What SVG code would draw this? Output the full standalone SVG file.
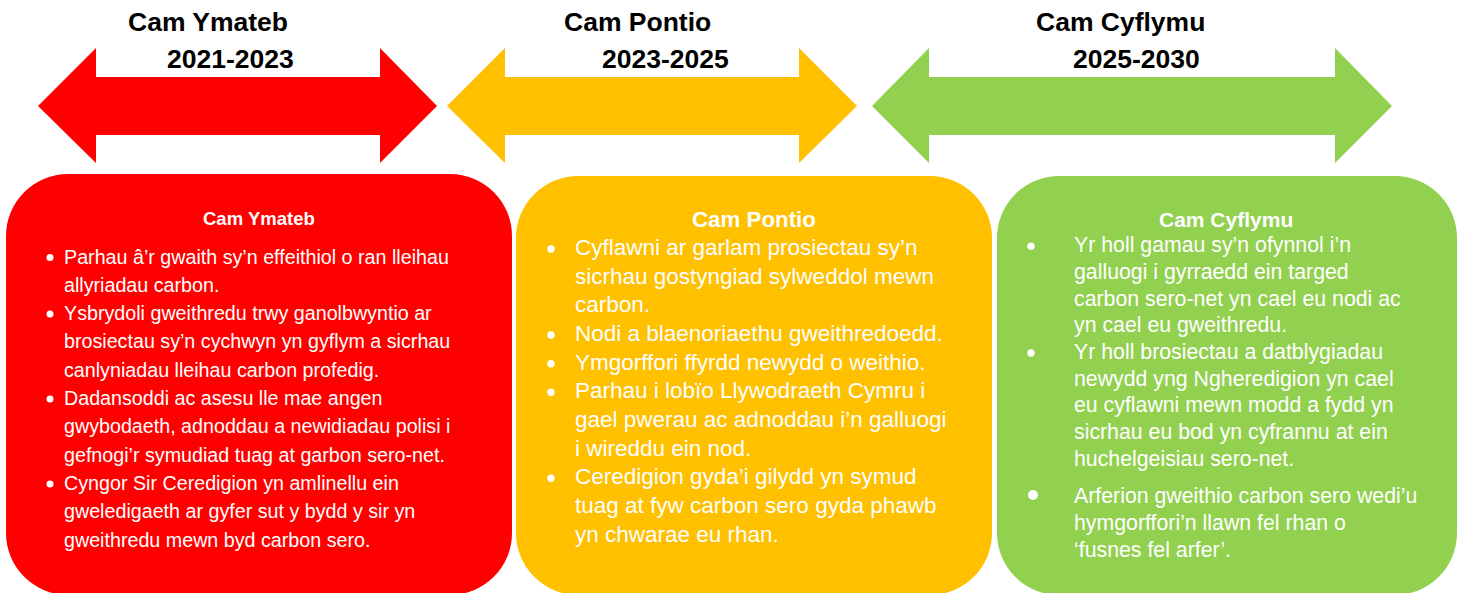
<svg xmlns="http://www.w3.org/2000/svg" width="1464" height="593" viewBox="0 0 1464 593">
<style>
.hd{font-family:"Liberation Sans",Arial,sans-serif;font-weight:bold;font-size:26.5px;fill:#000}
.red{fill:#FF0000}
.yel{fill:#FFC000}
.grn{fill:#92D050}
.tx{font-family:"Liberation Sans",Arial,sans-serif;fill:#fff}
.t1{font-size:19.7px}
.t2{font-size:22.5px}
.t3{font-size:21.3px}
.bt{font-family:"Liberation Sans",Arial,sans-serif;font-weight:bold;fill:#fff}
.dot{fill:#fff}
</style>
<rect width="1464" height="593" fill="#fff"/>
<g id="arrow-ymateb">
<polygon class="red" points="38,106 96,48 96,77 380,77 380,48 437,106 380,163 380,135 96,135 96,163"/>
<text class="hd" x="128" y="30.5">Cam Ymateb</text>
<text class="hd" x="167" y="67.7">2021-2023</text>
</g>
<g id="arrow-pontio">
<polygon class="yel" points="447,106 505,48 505,77 799,77 799,48 857,106 799,163 799,135 505,135 505,163"/>
<text class="hd" x="564" y="30.5">Cam Pontio</text>
<text class="hd" x="602" y="67.7">2023-2025</text>
</g>
<g id="arrow-cyflymu">
<polygon class="grn" points="872,106 929,48 929,77 1335,77 1335,48 1392,106 1335,163 1335,135 929,135 929,163"/>
<text class="hd" x="1036" y="30.5">Cam Cyflymu</text>
<text class="hd" x="1073" y="67.7">2025-2030</text>
</g>
<g id="box-ymateb">
<rect class="red" x="6" y="174" width="506" height="421" rx="62" ry="62"/>
<text class="bt" x="203" y="225" font-size="18.5">Cam Ymateb</text>
<g class="dot">
<circle cx="50" cy="257.5" r="3.5"/>
<circle cx="50" cy="314.1" r="3.5"/>
<circle cx="50" cy="399" r="3.5"/>
<circle cx="50" cy="483.9" r="3.5"/>
</g>
<text class="tx t1" x="64">
<tspan x="64" y="263.5">Parhau â’r gwaith sy’n effeithiol o ran lleihau</tspan>
<tspan x="64" y="291.8">allyriadau carbon.</tspan>
<tspan x="64" y="320.1">Ysbrydoli gweithredu trwy ganolbwyntio ar</tspan>
<tspan x="64" y="348.4">brosiectau sy’n cychwyn yn gyflym a sicrhau</tspan>
<tspan x="64" y="376.7">canlyniadau lleihau carbon profedig.</tspan>
<tspan x="64" y="405">Dadansoddi ac asesu lle mae angen</tspan>
<tspan x="64" y="433.3">gwybodaeth, adnoddau a newidiadau polisi i</tspan>
<tspan x="64" y="461.6">gefnogi’r symudiad tuag at garbon sero-net.</tspan>
<tspan x="64" y="489.9">Cyngor Sir Ceredigion yn amlinellu ein</tspan>
<tspan x="64" y="518.2">gweledigaeth ar gyfer sut y bydd y sir yn</tspan>
<tspan x="64" y="546.5">gweithredu mewn byd carbon sero.</tspan>
</text>
</g>
<g id="box-pontio">
<rect class="yel" x="516" y="176" width="476" height="419" rx="62" ry="62"/>
<text class="bt" x="692" y="227" font-size="22.3">Cam Pontio</text>
<g class="dot">
<circle cx="551" cy="249" r="3.7"/>
<circle cx="551" cy="335" r="3.7"/>
<circle cx="551" cy="363.7" r="3.7"/>
<circle cx="551" cy="392.3" r="3.7"/>
<circle cx="551" cy="478.3" r="3.7"/>
</g>
<text class="tx t2" x="575">
<tspan x="575" y="255">Cyflawni ar garlam prosiectau sy’n</tspan>
<tspan x="575" y="283.7">sicrhau gostyngiad sylweddol mewn</tspan>
<tspan x="575" y="312.3">carbon.</tspan>
<tspan x="575" y="341">Nodi a blaenoriaethu gweithredoedd.</tspan>
<tspan x="575" y="369.7">Ymgorffori ffyrdd newydd o weithio.</tspan>
<tspan x="575" y="398.3">Parhau i lobïo Llywodraeth Cymru i</tspan>
<tspan x="575" y="427">gael pwerau ac adnoddau i’n galluogi</tspan>
<tspan x="575" y="455.7">i wireddu ein nod.</tspan>
<tspan x="575" y="484.3">Ceredigion gyda’i gilydd yn symud</tspan>
<tspan x="575" y="513">tuag at fyw carbon sero gyda phawb</tspan>
<tspan x="575" y="541.7">yn chwarae eu rhan.</tspan>
</text>
</g>
<g id="box-cyflymu">
<rect class="grn" x="997" y="176" width="460" height="419" rx="62" ry="62"/>
<text class="bt" x="1159" y="227" font-size="21">Cam Cyflymu</text>
<g class="dot">
<circle cx="1031" cy="246.3" r="3.7"/>
<circle cx="1031" cy="353" r="3.7"/>
<circle cx="1033" cy="495" r="5"/>
</g>
<text class="tx t3" x="1074">
<tspan x="1074" y="252.3">Yr holl gamau sy’n ofynnol i’n</tspan>
<tspan x="1074" y="279">galluogi i gyrraedd ein targed</tspan>
<tspan x="1074" y="305.6">carbon sero-net yn cael eu nodi ac</tspan>
<tspan x="1074" y="332.3">yn cael eu gweithredu.</tspan>
<tspan x="1074" y="359">Yr holl brosiectau a datblygiadau</tspan>
<tspan x="1074" y="385.6">newydd yng Ngheredigion yn cael</tspan>
<tspan x="1074" y="412.3">eu cyflawni mewn modd a fydd yn</tspan>
<tspan x="1074" y="439">sicrhau eu bod yn cyfrannu at ein</tspan>
<tspan x="1074" y="465.6">huchelgeisiau sero-net.</tspan>
<tspan x="1074" y="503.3">Arferion gweithio carbon sero wedi’u</tspan>
<tspan x="1074" y="530">hymgorffori’n llawn fel rhan o</tspan>
<tspan x="1074" y="556.6">‘fusnes fel arfer’.</tspan>
</text>
</g>
<g id="connectors"/>
</svg>
